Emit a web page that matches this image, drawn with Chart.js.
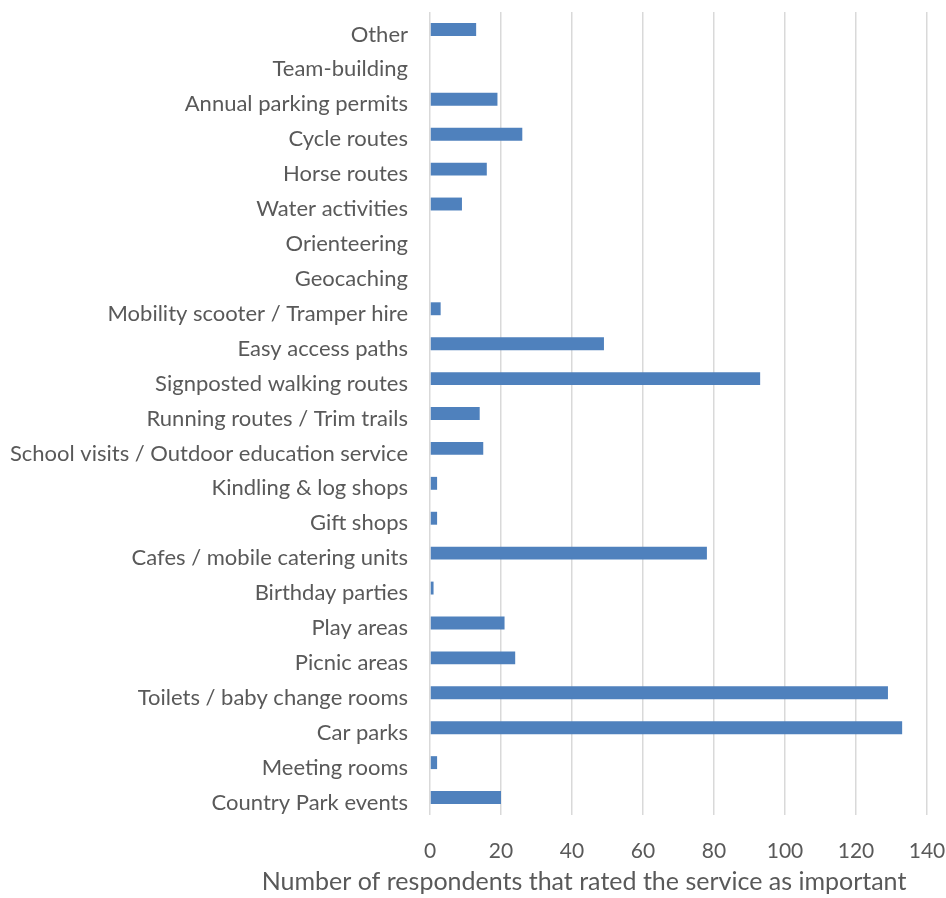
<!DOCTYPE html>
<html>
<head>
<meta charset="utf-8">
<script src="https://cdn.jsdelivr.net/npm/chart.js@4.4.1/dist/chart.umd.min.js"></script>
<style>
  html, body { margin: 0; padding: 0; background: #ffffff; }
  #wrap { width: 946px; height: 898px; }
</style>
</head>
<body>
<div id="wrap"><canvas id="servicesChart" width="946" height="898"></canvas></div>
<script>
// services, listed top to bottom as drawn
const services = [
    'Other',
    'Team-building',
    'Annual parking permits',
    'Cycle routes',
    'Horse routes',
    'Water activities',
    'Orienteering',
    'Geocaching',
    'Mobility scooter / Tramper hire',
    'Easy access paths',
    'Signposted walking routes',
    'Running routes / Trim trails',
    'School visits / Outdoor education service',
    'Kindling & log shops',
    'Gift shops',
    'Cafes / mobile catering units',
    'Birthday parties',
    'Play areas',
    'Picnic areas',
    'Toilets / baby change rooms',
    'Car parks',
    'Meeting rooms',
    'Country Park events'
];

const respondents = [13, 0, 19, 26, 16, 9, 0, 0, 3, 49, 93, 14, 15, 2, 2, 78, 1, 21, 24, 129, 133, 2, 20];

const xTicks = [0, 20, 40, 60, 80, 100, 120, 140];

const axisTitle = 'Number of respondents that rated the service as important';

const textColor = '#595959';
const fontFamily = 'Lato, "Open Sans", sans-serif';

// x axis title, drawn below the tick labels
const axisTitlePlugin = {
    id: 'axisTitle',
    afterDraw(chart) {
        const c = chart.ctx;
        c.save();
        c.fillStyle = textColor;
        c.font = '25px ' + fontFamily;
        c.textAlign = 'center';
        c.textBaseline = 'alphabetic';
        c.fillText(axisTitle, 584, 890);
        c.restore();
    }
};

// keep the plot area fixed, without the extra room chart.js adds for edge labels
function noEdgePadding(scale) {
    scale.paddingTop = 0;
    scale.paddingBottom = 0;
    scale.paddingLeft = 0;
    scale.paddingRight = 0;
}

const ctx = document.getElementById('servicesChart');

new Chart(ctx, {

    type: 'bar',

    data: {
        labels: services,
        datasets: [{
            label: 'Respondents',
            data: respondents,
            backgroundColor: '#4f81bd',
            barPercentage: 0.37,
            categoryPercentage: 1
        }]
    },

    options: {
        responsive: false,
        animation: false,
        indexAxis: 'y',
        layout: {
            padding: { top: 12, right: 19, bottom: 30, left: 0 }
        },
        plugins: {
            legend: { display: false },
            tooltip: { enabled: false }
        },
        scales: {
            x: {
                min: 0,
                max: 140,
                afterBuildTicks(scale) {
                    scale.ticks = xTicks.map(v => ({ value: v }));
                },
                afterFit(scale) {
                    scale.height = 53;
                    noEdgePadding(scale);
                },
                grid: {
                    color: '#d9d9d9',
                    lineWidth: 1.5,
                    drawTicks: false
                },
                border: { display: false },
                ticks: {
                    color: textColor,
                    padding: 24,
                    font: { family: fontFamily, size: 21 }
                }
            },
            y: {
                afterFit(scale) {
                    scale.width = 430;
                    noEdgePadding(scale);
                },
                grid: { display: false, drawTicks: false },
                border: { display: false },
                ticks: {
                    color: textColor,
                    padding: 22,
                    labelOffset: 5,
                    autoSkip: false,
                    font: { family: fontFamily, size: 22 }
                }
            }
        }
    },

    plugins: [axisTitlePlugin]
});
</script>
</body>
</html>
